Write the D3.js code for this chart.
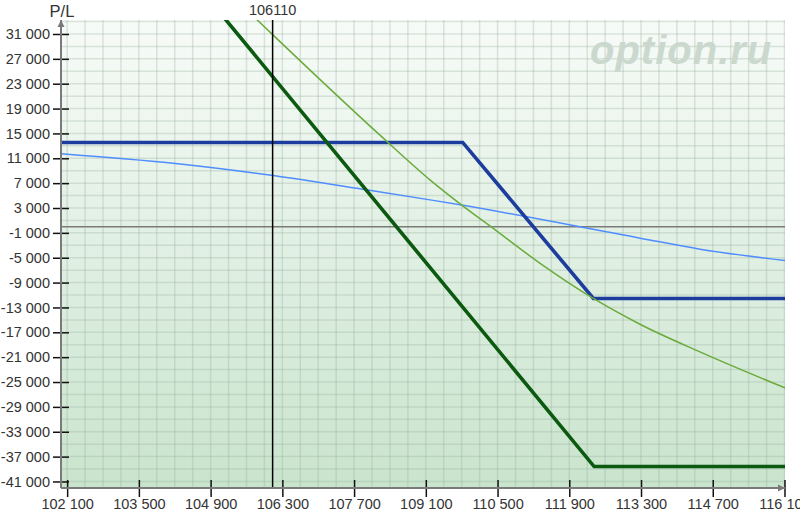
<!DOCTYPE html>
<html>
<head>
<meta charset="utf-8">
<script src="https://cdn.jsdelivr.net/npm/d3@7"></script>
<style>
  body { margin: 0; background: #fff; }
  svg { display: block; font-family: "Liberation Sans", Arial, sans-serif; }
</style>
</head>
<body>
<svg id="chart" width="800" height="516"></svg>
<script>
// price ticks and P/L ticks
var xTicks = [102100, 103500, 104900, 106300, 107700, 109100, 110500, 111900, 113300, 114700, 116100];
var yTicks = [31000, 27000, 23000, 19000, 15000, 11000, 7000, 3000, -1000, -5000, -9000, -13000,
              -17000, -21000, -25000, -29000, -33000, -37000, -41000];

var currentPrice = 106110;

// expiry payoffs (thick lines)
var bluePrice = [101980, 109820, 112370, 116110];
var bluePL    = [13550, 13550, -11550, -11550];
var greenPrice = [101980, 112385, 116110];
var greenPL    = [65450, -38600, -38600];

// today's P/L (thin curves)
var lightBluePrice = [101980, 104170, 106123, 107946, 109182, 109768, 113282, 114453, 116110];
var lightBluePL    = [11750, 10210, 8220, 5920, 4310, 3510, -1850, -3620, -5450];
var lightGreenPrice = [105500, 105810, 106110, 108200, 109180, 109820, 110370, 111330, 112370, 113280, 114450, 116110];
var lightGreenPL    = [35700, 33260, 30900, 14760, 7530, 3350, 0, -5900, -11550, -15700, -20150, -25950];

// plot box (px); "top" is a reserved window name, so prefixed
var pLeft = 61, pRight = 785, pTop = 20, pBottom = 488;

var svg = d3.select("#chart");

var x = d3.scaleLinear().domain([101980, 116110]).range([pLeft, pRight]);
var y = d3.scaleLinear().domain([-42050, 33250]).range([pBottom, pTop]);

var loc = d3.formatLocale({decimal: ",", thousands: " ", grouping: [3], currency: ["", ""], minus: "-"});
var fmt = loc.format(",d");

var defs = svg.append("defs");
var grad = defs.append("linearGradient").attr("id", "bg").attr("x1", 0).attr("x2", 0).attr("y1", 0).attr("y2", 1);
grad.append("stop").attr("offset", "0%").attr("stop-color", "#f7fbf8");
grad.append("stop").attr("offset", "100%").attr("stop-color", "#c9e4cd");
defs.append("clipPath").attr("id", "clip")
  .append("rect").attr("x", pLeft).attr("y", pTop).attr("width", pRight - pLeft).attr("height", pBottom - pTop);

svg.append("rect")
  .attr("x", pLeft).attr("y", pTop)
  .attr("width", pRight - pLeft).attr("height", pBottom - pTop)
  .attr("fill", "url(#bg)");

// grid
var grid = svg.append("g").attr("clip-path", "url(#clip)");
grid.selectAll("line.v")
  .data(d3.range(102100, 116101, 350))
  .enter().append("line").attr("class", "v")
  .attr("x1", function(d) { return x(d); }).attr("x2", function(d) { return x(d); })
  .attr("y1", pTop).attr("y2", pBottom)
  .attr("stroke", "rgba(150,172,156,0.3)").attr("stroke-width", 1.5);
grid.selectAll("line.h")
  .data(d3.range(-41000, 33001, 2000))
  .enter().append("line").attr("class", "h")
  .attr("y1", function(d) { return y(d); }).attr("y2", function(d) { return y(d); })
  .attr("x1", pLeft).attr("x2", pRight)
  .attr("stroke", "rgba(150,172,156,0.3)").attr("stroke-width", 1.5);

// watermark
svg.append("text")
  .attr("x", 590).attr("y", 64)
  .attr("font-size", 40).attr("font-weight", "bold").attr("font-style", "italic")
  .attr("letter-spacing", 1)
  .attr("fill", "#cbd8ce")
  .text("option.ru");

// zero line
svg.append("line")
  .attr("x1", pLeft).attr("x2", pRight)
  .attr("y1", y(0)).attr("y2", y(0))
  .attr("stroke", "#7b7b7b").attr("stroke-width", 1.5);

var plot = svg.append("g").attr("clip-path", "url(#clip)");

function series(px, pl) {
  return px.map(function(d, i) { return [d, pl[i]]; });
}
var straight = d3.line().x(function(d) { return x(d[0]); }).y(function(d) { return y(d[1]); });
var smooth = d3.line().curve(d3.curveMonotoneX).x(function(d) { return x(d[0]); }).y(function(d) { return y(d[1]); });

plot.append("path").datum(series(lightBluePrice, lightBluePL))
  .attr("d", smooth).attr("fill", "none").attr("stroke", "#4f8dff").attr("stroke-width", 1.5);
plot.append("path").datum(series(bluePrice, bluePL))
  .attr("d", straight).attr("fill", "none").attr("stroke", "#1c3d9e").attr("stroke-width", 3.6);
plot.append("path").datum(series(lightGreenPrice, lightGreenPL))
  .attr("d", smooth).attr("fill", "none").attr("stroke", "#6aab3c").attr("stroke-width", 1.5);
plot.append("path").datum(series(greenPrice, greenPL))
  .attr("d", straight).attr("fill", "none").attr("stroke", "#0c5a10").attr("stroke-width", 3.6);

// current price marker
svg.append("line")
  .attr("x1", x(currentPrice)).attr("x2", x(currentPrice))
  .attr("y1", pTop).attr("y2", pBottom)
  .attr("stroke", "#000").attr("stroke-width", 1.5);
svg.append("text")
  .attr("x", x(currentPrice)).attr("y", 15)
  .attr("text-anchor", "middle").attr("font-size", 14.5).attr("fill", "#333")
  .text(currentPrice);

// axes
var yAxis = svg.append("g").attr("transform", "translate(" + pLeft + ",0)")
  .call(d3.axisLeft(y).tickValues(yTicks).tickFormat(fmt).tickSize(8).tickPadding(3));
yAxis.select(".domain").remove();
yAxis.selectAll(".tick line").attr("x1", -8).attr("x2", 8).attr("stroke", "#111").attr("stroke-width", 1.5);
yAxis.selectAll("text").attr("font-size", 14.5).attr("fill", "#333");
yAxis.attr("font-family", null).attr("font-size", null);

var xAxis = svg.append("g").attr("transform", "translate(0," + pBottom + ")")
  .call(d3.axisBottom(x).tickValues(xTicks).tickFormat(fmt).tickSize(9).tickPadding(2));
xAxis.select(".domain").remove();
xAxis.selectAll(".tick line").attr("y1", -8).attr("y2", 9).attr("stroke", "#111").attr("stroke-width", 1.5);
xAxis.selectAll("text").attr("font-size", 14.5).attr("fill", "#333");
xAxis.attr("font-family", null).attr("font-size", null);

svg.append("line").attr("x1", pLeft).attr("x2", pLeft).attr("y1", pTop).attr("y2", pBottom)
  .attr("stroke", "#7a7a7a").attr("stroke-width", 2);
svg.append("line").attr("x1", pLeft).attr("x2", pRight).attr("y1", pBottom).attr("y2", pBottom)
  .attr("stroke", "#7a7a7a").attr("stroke-width", 2);
svg.append("path")
  .attr("d", "M" + (pLeft - 3.5) + "," + (pTop + 7) + "L" + pLeft + "," + pTop + "L" + (pLeft + 3.5) + "," + (pTop + 7) + "Z")
  .attr("fill", "#7a7a7a");
svg.append("path")
  .attr("d", "M" + (pRight - 7) + "," + (pBottom - 3.5) + "L" + pRight + "," + pBottom + "L" + (pRight - 7) + "," + (pBottom + 3.5) + "Z")
  .attr("fill", "#7a7a7a");

svg.append("text")
  .attr("x", 62).attr("y", 17)
  .attr("text-anchor", "middle").attr("font-size", 16.5).attr("fill", "#333")
  .text("P/L");
</script>
</body>
</html>
